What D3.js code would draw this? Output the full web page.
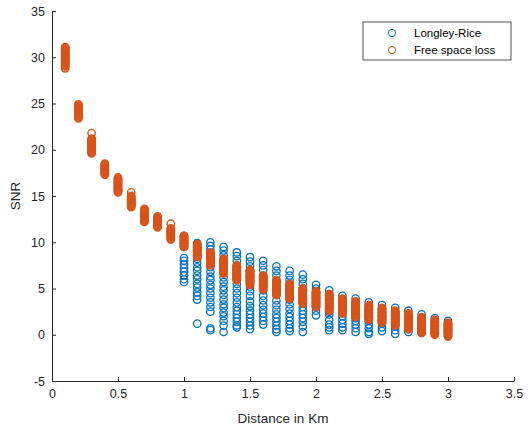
<!DOCTYPE html>
<html>
<head>
<meta charset="utf-8">
<script src="https://cdn.jsdelivr.net/npm/d3@7"></script>
<style>
  body { margin: 0; background: #fff; }
  svg { font-family: "Liberation Sans", Arial, sans-serif; }
</style>
</head>
<body>
<script>
// distances (km) for the free space loss series
const distances = [0.1, 0.2, 0.3, 0.4, 0.5, 0.6, 0.7, 0.8, 0.9, 1.0,
                   1.1, 1.2, 1.3, 1.4, 1.5, 1.6, 1.7, 1.8, 1.9, 2.0,
                   2.1, 2.2, 2.3, 2.4, 2.5, 2.6, 2.7, 2.8, 2.9, 3.0]

// SNR samples per distance, free space loss (orange), densely packed
const freeSpaceSnr = [
  [31.1, 31.0, 30.9, 30.8, 30.7, 30.6, 30.5, 30.4, 30.3, 30.2, 30.1, 30.0, 29.9, 29.8, 29.7, 29.6, 29.5, 29.4, 29.3, 29.2, 29.1, 29.0, 28.8],
  [24.9, 24.8, 24.7, 24.6, 24.5, 24.4, 24.3, 24.2, 24.1, 24.0, 23.9, 23.8, 23.7, 23.6, 23.5, 23.4],
  [21.8, 21.2, 21.1, 21.0, 20.9, 20.8, 20.7, 20.6, 20.5, 20.4, 20.3, 20.2, 20.1, 20.0, 19.9, 19.8, 19.7, 19.6],
  [18.5, 18.4, 18.3, 18.2, 18.1, 18.0, 17.9, 17.8, 17.7, 17.6, 17.5, 17.4, 17.3],
  [17.0, 16.9, 16.8, 16.7, 16.6, 16.5, 16.4, 16.3, 16.2, 16.1, 16.0, 15.9, 15.8, 15.7, 15.6, 15.5, 15.4],
  [15.4, 15.0, 14.9, 14.8, 14.7, 14.6, 14.5, 14.4, 14.3, 14.2, 14.1, 14.0, 13.9, 13.8],
  [13.6, 13.5, 13.4, 13.3, 13.2, 13.1, 13.0, 12.9, 12.8, 12.7, 12.6, 12.5, 12.4, 12.3, 12.2],
  [12.8, 12.7, 12.6, 12.5, 12.4, 12.3, 12.2, 12.1, 12.0, 11.9, 11.8, 11.7, 11.6],
  [12.0, 11.5, 11.4, 11.3, 11.2, 11.1, 11.0, 10.9, 10.8, 10.7, 10.6, 10.5, 10.4, 10.3],
  [10.7, 10.6, 10.5, 10.4, 10.3, 10.2, 10.1, 10.0, 9.9, 9.8, 9.7, 9.6, 9.5],
  [9.8, 9.7, 9.6, 9.5, 9.4, 9.3, 9.2, 9.1, 9.0, 8.9, 8.8, 8.7, 8.6, 8.5, 8.4],
  [8.9, 8.8, 8.7, 8.6, 8.5, 8.4, 8.3, 8.2, 8.1, 8.0, 7.9, 7.8, 7.7, 7.6, 7.5],
  [8.2, 8.1, 8.0, 7.9, 7.8, 7.7, 7.6, 7.5, 7.4, 7.3, 7.2, 7.1, 7.0, 6.9, 6.8, 6.7, 6.6],
  [7.5, 7.4, 7.3, 7.2, 7.1, 7.0, 6.9, 6.8, 6.7, 6.6, 6.5, 6.4, 6.3, 6.2, 6.1, 6.0, 5.9],
  [7.0, 6.9, 6.8, 6.7, 6.6, 6.5, 6.4, 6.3, 6.2, 6.1, 6.0, 5.9, 5.8, 5.7, 5.6, 5.5, 5.4],
  [6.4, 6.3, 6.2, 6.1, 6.0, 5.9, 5.8, 5.7, 5.6, 5.5, 5.4, 5.3, 5.2, 5.1, 5.0, 4.9],
  [5.9, 5.8, 5.7, 5.6, 5.5, 5.4, 5.3, 5.2, 5.1, 5.0, 4.9, 4.8, 4.7, 4.6, 4.5, 4.4, 4.3],
  [5.5, 5.4, 5.3, 5.2, 5.1, 5.0, 4.9, 4.8, 4.7, 4.6, 4.5, 4.4, 4.3, 4.2, 4.1, 4.0, 3.9],
  [5.0, 4.9, 4.8, 4.7, 4.6, 4.5, 4.4, 4.3, 4.2, 4.1, 4.0, 3.9, 3.8, 3.7, 3.6, 3.5, 3.4],
  [4.7, 4.6, 4.5, 4.4, 4.3, 4.2, 4.1, 4.0, 3.9, 3.8, 3.7, 3.6, 3.5, 3.4, 3.3, 3.2, 3.1, 3.0],
  [4.4, 4.3, 4.2, 4.1, 4.0, 3.9, 3.8, 3.7, 3.6, 3.5, 3.4, 3.3, 3.2, 3.1, 3.0, 2.9, 2.8, 2.7, 2.6],
  [3.9, 3.8, 3.7, 3.6, 3.5, 3.4, 3.3, 3.2, 3.1, 3.0, 2.9, 2.8, 2.7, 2.6, 2.5, 2.4, 2.3],
  [3.6, 3.5, 3.4, 3.3, 3.2, 3.1, 3.0, 2.9, 2.8, 2.7, 2.6, 2.5, 2.4, 2.3, 2.2, 2.1, 2.0, 1.9],
  [3.2, 3.1, 3.0, 2.9, 2.8, 2.7, 2.6, 2.5, 2.4, 2.3, 2.2, 2.1, 2.0, 1.9, 1.8, 1.7, 1.6],
  [2.9, 2.8, 2.7, 2.6, 2.5, 2.4, 2.3, 2.2, 2.1, 2.0, 1.9, 1.8, 1.7, 1.6, 1.5, 1.4, 1.3],
  [2.6, 2.5, 2.4, 2.3, 2.2, 2.1, 2.0, 1.9, 1.8, 1.7, 1.6, 1.5, 1.4, 1.3, 1.2, 1.1, 1.0],
  [2.3, 2.2, 2.1, 2.0, 1.9, 1.8, 1.7, 1.6, 1.5, 1.4, 1.3, 1.2, 1.1, 1.0, 0.9, 0.8, 0.7, 0.6],
  [1.9, 1.8, 1.7, 1.6, 1.5, 1.4, 1.3, 1.2, 1.1, 1.0, 0.9, 0.8, 0.7, 0.6, 0.5, 0.4, 0.3, 0.2],
  [1.6, 1.5, 1.4, 1.3, 1.2, 1.1, 1.0, 0.9, 0.8, 0.7, 0.6, 0.5, 0.4, 0.3, 0.2, 0.1, 0.0],
  [1.3, 1.2, 1.1, 1.0, 0.9, 0.8, 0.7, 0.6, 0.5, 0.4, 0.3, 0.2, 0.1, 0.0, -0.1, -0.2]
]

// Longley-Rice (blue); below 1 km it sits under the orange marks
const lrDistances = [1.0, 1.1, 1.2, 1.3, 1.4, 1.5, 1.6, 1.7, 1.8, 1.9, 2.0,
                     2.1, 2.2, 2.3, 2.4, 2.5, 2.6, 2.7, 2.8, 2.9, 3.0]
const longleyRiceSnr = [
  [10.7, 10.3, 9.9, 9.5, 8.3, 8.0, 7.6, 7.2, 6.8, 6.4, 6.0, 5.7],
  [9.9, 9.5, 9.1, 8.6, 8.2, 7.8, 7.3, 6.9, 6.4, 6.0, 5.5, 5.1, 4.6, 4.2, 3.8, 1.2],
  [10.0, 9.6, 9.2, 8.7, 8.2, 7.8, 7.3, 6.8, 6.3, 5.9, 5.4, 5.0, 4.5, 4.0, 3.5, 3.0, 2.5, 0.7, 0.5],
  [9.5, 9.1, 8.6, 8.1, 7.6, 7.1, 6.7, 6.2, 5.7, 5.2, 4.8, 4.3, 3.8, 3.3, 2.9, 2.4, 2.0, 1.5, 1.0, 0.3],
  [8.9, 8.5, 8.0, 7.5, 7.0, 6.5, 6.0, 5.5, 5.0, 4.5, 4.0, 3.5, 3.0, 2.6, 2.2, 1.8, 1.4, 1.0, 0.8],
  [8.4, 7.9, 7.4, 6.9, 6.3, 5.8, 5.2, 4.7, 4.2, 3.6, 3.1, 2.6, 2.2, 1.8, 1.4, 1.0, 0.6],
  [8.0, 7.5, 7.0, 6.4, 5.9, 5.3, 4.8, 4.2, 3.7, 3.2, 2.7, 2.3, 1.9, 1.5, 1.1],
  [7.4, 6.9, 6.4, 5.8, 5.3, 4.8, 4.3, 3.7, 3.2, 2.7, 2.2, 1.8, 1.4, 1.0, 0.6, 0.3],
  [6.9, 6.4, 5.9, 5.4, 4.9, 4.4, 3.8, 3.3, 2.8, 2.3, 1.9, 1.5, 1.1, 0.7, 0.4],
  [6.5, 6.0, 5.5, 5.0, 4.4, 3.9, 3.4, 3.0, 2.6, 2.2, 1.8, 1.4, 0.9, 0.3],
  [5.4, 5.0, 4.5, 4.0, 3.5, 3.0, 2.6, 2.1],
  [4.8, 4.4, 3.9, 3.4, 2.9, 2.5, 2.2, 1.6, 1.1, 0.8, 0.5],
  [4.2, 3.8, 3.4, 2.9, 2.4, 2.0, 1.6, 1.2, 0.8, 0.5],
  [3.9, 3.4, 3.0, 2.6, 2.2, 1.8, 1.5, 1.1, 0.7, 0.3],
  [3.5, 3.1, 2.7, 2.3, 1.9, 1.5, 1.1, 0.7, 0.3, 0.1],
  [3.2, 2.8, 2.4, 2.0, 1.6, 1.2, 0.8, 0.4],
  [2.9, 2.5, 2.1, 1.7, 1.3, 0.9, 0.5, 0.1],
  [2.6, 2.2, 1.8, 1.4, 1.0, 0.6, 0.3],
  [2.2, 1.8, 1.4, 1.0, 0.6, 0.2],
  [1.8, 1.4, 1.0, 0.6, 0.2],
  [1.5, 1.1, 0.7, 0.3]
]

const xTicks = [0, 0.5, 1, 1.5, 2, 2.5, 3, 3.5]
const yTicks = [-5, 0, 5, 10, 15, 20, 25, 30, 35]
const seriesNames = ['Longley-Rice', 'Free space loss']
const colors = ['#0072BD', '#D95319']

const m = { width: 531, height: 429, left: 52, right: 514, top: 11, bottom: 381 }

const svg = d3.select('body').append('svg')
    .attr('width', m.width)
    .attr('height', m.height)

const x = d3.scaleLinear().domain([0, 3.5]).range([m.left, m.right])
const y = d3.scaleLinear().domain([-5, 35]).range([m.bottom, m.top])

// flatten columns into points
function toPoints(xs, cols) {
    const pts = []
    cols.forEach(function(col, i) {
        col.forEach(function(v) { pts.push([xs[i], v]) })
    })
    return pts
}

const lrPoints = toPoints(lrDistances, longleyRiceSnr)
const fsPoints = toPoints(distances, freeSpaceSnr)

const g = svg.append('g')

g.selectAll('.lr')
  .data(lrPoints)
  .enter()
  .append('circle')
    .attr('class', 'lr')
    .attr('cx', d => x(d[0]))
    .attr('cy', d => y(d[1]))
    .attr('r', 3.7)
    .attr('fill', 'none')
    .attr('stroke', colors[0])
    .attr('stroke-width', 1.3)

g.selectAll('.fs')
  .data(fsPoints)
  .enter()
  .append('circle')
    .attr('class', 'fs')
    .attr('cx', d => x(d[0]))
    .attr('cy', d => y(d[1]))
    .attr('r', 3.7)
    .attr('fill', 'none')
    .attr('stroke', colors[1])
    .attr('stroke-width', 1.4)

// axes, ticks pointing inward like matlab
svg.append('g')
    .attr('transform', `translate(0,${m.bottom})`)
    .call(d3.axisBottom(x).tickValues(xTicks).tickSize(-4).tickSizeOuter(0).tickPadding(8)
        .tickFormat(d => String(d)))
svg.append('g')
    .attr('transform', `translate(${m.left},0)`)
    .call(d3.axisLeft(y).tickValues(yTicks).tickSize(-4).tickSizeOuter(0).tickPadding(7)
        .tickFormat(d => String(d)))

svg.selectAll('.domain, .tick line').attr('stroke', '#262626').attr('stroke-width', 1)
svg.selectAll('.tick text').attr('fill', '#262626').style('font-size', '12.5px')
    .style('font-family', '"Liberation Sans", Arial, sans-serif')

svg.append('text')
    .attr('x', (m.left + m.right) / 2)
    .attr('y', 423)
    .attr('text-anchor', 'middle')
    .attr('fill', '#262626')
    .style('font-size', '13.5px')
    .text('Distance in Km')

svg.append('text')
    .attr('transform', `translate(20,${(m.top + m.bottom) / 2}) rotate(-90)`)
    .attr('text-anchor', 'middle')
    .attr('fill', '#262626')
    .style('font-size', '13.5px')
    .text('SNR')

// legend
const legend = svg.append('g').attr('transform', 'translate(363,22)')
legend.append('rect')
    .attr('width', 148)
    .attr('height', 38)
    .attr('fill', '#fff')
    .attr('stroke', '#262626')
    .attr('stroke-width', 0.8)

seriesNames.forEach(function(name, i) {
    legend.append('circle')
        .attr('cx', 29)
        .attr('cy', 11 + i * 17)
        .attr('r', 3.6)
        .attr('fill', 'none')
        .attr('stroke', colors[i])
        .attr('stroke-width', 1)
    legend.append('text')
        .attr('x', 51)
        .attr('y', 15 + i * 17)
        .attr('fill', '#000')
        .style('font-size', '11.5px')
        .text(name)
})
</script>
</body>
</html>
